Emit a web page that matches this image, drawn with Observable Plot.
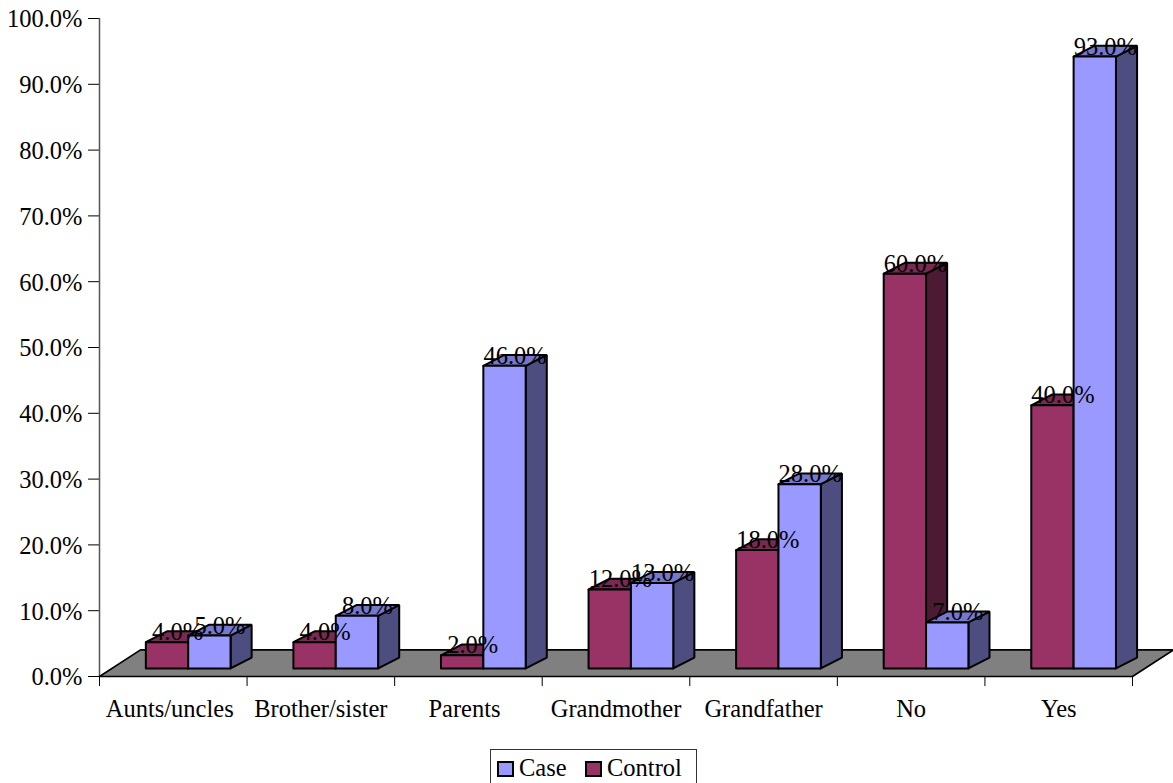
<!DOCTYPE html>
<html>
<head>
<meta charset="utf-8">
<script src="https://cdn.jsdelivr.net/npm/d3@7"></script>
<script src="https://cdn.jsdelivr.net/npm/@observablehq/plot@0.6"></script>
<style>
  html, body { margin: 0; padding: 0; background: #fff; width: 1173px; height: 783px; overflow: hidden; }
  svg { display: block; }
  #legend {
    position: relative; box-sizing: border-box; margin-left: 490px; width: 207px; height: 34px;
    border: 1px solid #333; border-bottom: none;
    font: 24.5px "Liberation Serif", serif; color: #000;
  }
  #legend i { position: absolute; top: 11px; width: 13px; height: 12px; border: 2px solid #000; }
  #legend span { position: absolute; top: 4px; line-height: 28px; }
</style>
</head>
<body>
<div id="chart"></div>
<div id="legend"></div>
<script>
// Share of respondents per family relation, by group
const categories = ["Aunts/uncles", "Brother/sister", "Parents", "Grandmother", "Grandfather", "No", "Yes"];
const controlValues = [4, 4, 2, 12, 18, 60, 40];
const caseValues = [5, 8, 46, 13, 28, 7, 93];
const yTicks = [0, 10, 20, 30, 40, 50, 60, 70, 80, 90, 100];

const caseColors = {front: "#9999ff", top: "#7777cc", side: "#4d4d80"};
const controlColors = {front: "#993366", top: "#7a2952", side: "#4d1a33"};

// Oblique projection, in scale units: one category is one x unit, one percent one y unit
const floorDepth = {x: 0.278, y: 4.05};
const barDepth = {x: 0.143, y: 1.65};
const barBase = 1.22;
const barStart = 0.314;
const barWidth = 0.287;

// Long labels sit slightly left of their category centre
const labelShift = {"Aunts/uncles": -0.024, "Parents": -0.027};

const fmt = v => v.toFixed(1) + "%";

// Three visible faces of one bar, each a closed outline
function barFaces(id, x0, value, colors) {
  const x1 = x0 + barWidth, y0 = barBase, y1 = barBase + value;
  const dx = barDepth.x, dy = barDepth.y;
  const faces = {
    side: [[x1, y0], [x1 + dx, y0 + dy], [x1 + dx, y1 + dy], [x1, y1], [x1, y0]],
    top: [[x0, y1], [x0 + dx, y1 + dy], [x1 + dx, y1 + dy], [x1, y1], [x0, y1]],
    front: [[x0, y0], [x1, y0], [x1, y1], [x0, y1], [x0, y0]]
  };
  return Object.entries(faces).flatMap(([face, points]) =>
    points.map(([x, y]) => ({x, y, z: `${id}-${face}`, color: colors[face]}))
  );
}

const bars = categories.flatMap((c, i) => [
  ...barFaces(`control-${i}`, i + barStart, controlValues[i], controlColors),
  ...barFaces(`case-${i}`, i + barStart + barWidth, caseValues[i], caseColors)
]);

const floor = [
  {x: 0, y: 0},
  {x: categories.length, y: 0},
  {x: categories.length + floorDepth.x, y: floorDepth.y},
  {x: floorDepth.x, y: floorDepth.y},
  {x: 0, y: 0}
];

const valueLabels = categories.flatMap((c, i) => [
  {x: i + barStart + barWidth / 2 + barDepth.x / 2, y: barBase + controlValues[i] + barDepth.y, text: fmt(controlValues[i])},
  {x: i + barStart + barWidth * 1.5 + barDepth.x / 2, y: barBase + caseValues[i] + barDepth.y, text: fmt(caseValues[i])}
]);

const chart = Plot.plot({
  width: 1173,
  height: 749,
  marginLeft: 99,
  marginRight: 41,
  marginTop: 18,
  marginBottom: 73,
  style: {fontFamily: "'Liberation Serif', serif", fontSize: "24.5px", color: "#000", background: "#fff"},
  x: {domain: [0, categories.length]},
  y: {domain: [0, 100]},
  marks: [
    // Tick marks and tick text are separate so the text can sit a pixel lower
    Plot.axisY({ticks: yTicks, tickFormat: () => "", tickSize: 11, label: null}),
    Plot.axisY({ticks: yTicks, tickFormat: fmt, tickSize: 0, tickPadding: 17, label: null, dy: 1}),
    Plot.axisX({ticks: d3.range(categories.length + 1), tickFormat: () => "", tickSize: 10, label: null}),
    Plot.ruleX([0], {y1: 0, y2: 100, stroke: "#555", strokeWidth: 1.5}),
    Plot.line(floor, {x: "x", y: "y", fill: "#808080", stroke: "#000", strokeWidth: 1.6}),
    Plot.line(bars, {x: "x", y: "y", z: "z", fill: d => d.color, stroke: "#000", strokeWidth: 2, strokeLinejoin: "miter"}),
    Plot.text(valueLabels, {x: "x", y: "y", dy: 1, text: "text", fill: "#000"}),
    Plot.text(categories, {x: (d, i) => i + 0.5 + (labelShift[d] || 0), y: 0, dy: 33, text: d => d, fill: "#000"})
  ]
});
document.getElementById("chart").append(chart);

// Legend row below the plot
const legend = document.getElementById("legend");
[
  {label: "Case", color: caseColors.front, swatch: 6, text: 28},
  {label: "Control", color: controlColors.front, swatch: 94, text: 116}
].forEach(({label, color, swatch, text}) => {
  const box = document.createElement("i");
  box.style.left = swatch + "px";
  box.style.background = color;
  const name = document.createElement("span");
  name.style.left = text + "px";
  name.textContent = label;
  legend.append(box, name);
});
</script>
</body>
</html>
